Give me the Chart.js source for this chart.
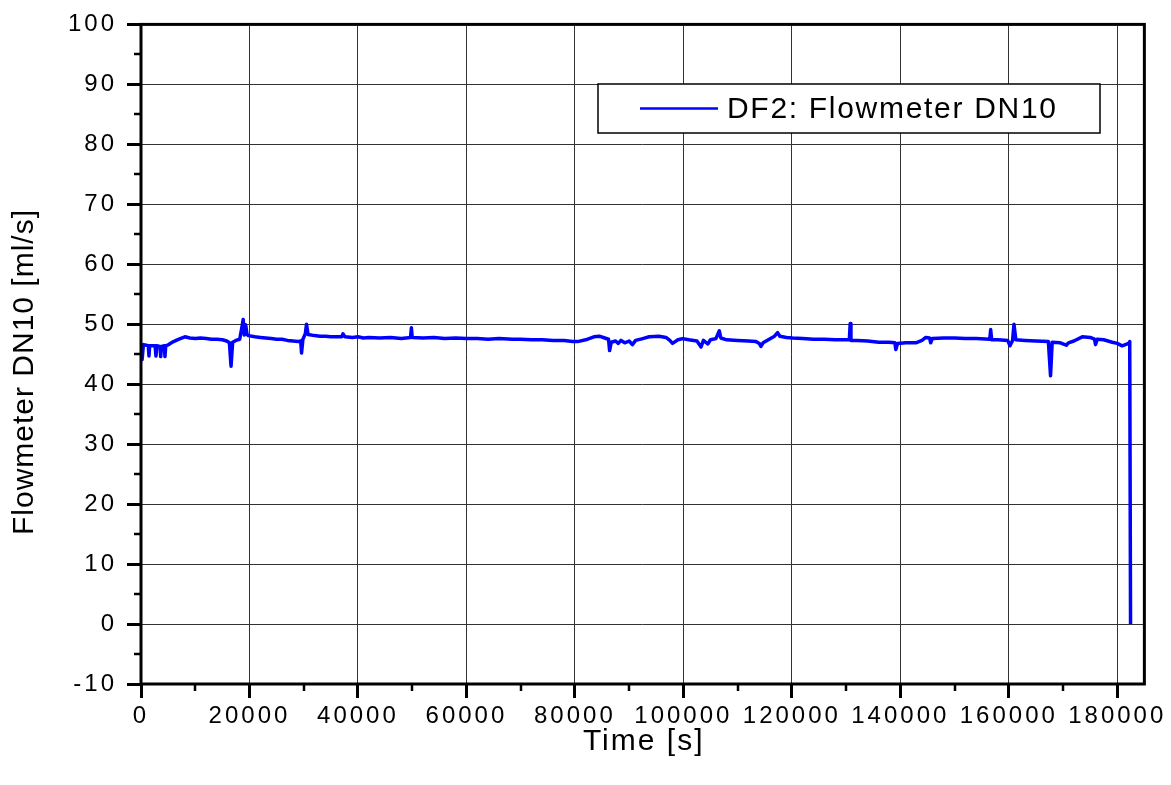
<!DOCTYPE html>
<html>
<head>
<meta charset="utf-8">
<script src="https://cdn.jsdelivr.net/npm/chart.js@4.4.1/dist/chart.umd.min.js"></script>
<style>
    html, body { margin: 0; padding: 0; background: #fff; }
    canvas { display: block; }
</style>
</head>
<body>
<canvas id="flow" width="1171" height="785"></canvas>
<script>
// Tiempo de ensayo [s] y caudal medido [ml/s]
const timeSec = [
    0, 200, 450, 1000, 1350, 1470, 1600, 2600, 2760, 2900,
    3500, 3630, 3780, 4300, 4420, 4560, 5100, 6000, 7000, 8100,
    9000, 10000, 11000, 12000, 13000, 14000, 15000, 15800, 16300, 16600,
    16900, 17500, 18200, 18600, 18840, 19050, 19300, 19550, 19800, 21000,
    22000, 23000, 24000, 25000, 26000, 27000, 28000, 29000, 29450, 29600,
    29850, 30300, 30520, 30800, 32000, 33000, 34000, 35000, 36000, 37000,
    37250, 37600, 39000, 40000, 41000, 42000, 44000, 46000, 48000, 49700,
    49850, 50000, 52000, 54000, 56000, 58000, 60000, 62000, 64000, 66000,
    68500, 70000, 72000, 74000, 76000, 78000, 79600, 80500, 82000, 83500,
    84500, 85500, 86200, 86400, 86700, 87500, 88000, 88500, 89200, 90000,
    90600, 91200, 92500, 93700, 95500, 96800, 97500, 98000, 99000, 99870,
    101000, 102500, 103260, 103700, 104500, 105000, 106000, 106630, 106900, 108000,
    110000, 112000, 113400, 114000, 114300, 114700, 115830, 116800, 117370, 117800,
    119000, 120130, 122000, 124000, 126000, 128000, 130260, 130600, 130760, 130900,
    132000, 134000, 136000, 137940, 139000, 139170, 139500, 141000, 142860, 144000,
    144700, 145400, 145600, 145900, 148000, 150000, 152000, 154000, 156500, 156660,
    156850, 158000, 159800, 160220, 160700, 160960, 161300, 163000, 165000, 167300,
    167700, 168000, 169500, 170600, 171000, 172000, 173550, 175000, 175800, 176000,
    176300, 177500, 179070, 180000, 180900, 181500, 182100, 182300, 182450
];

const flowRate = [
    46.8, 44.1, 46.6, 46.5, 46.4, 44.7, 46.4, 46.4, 44.7, 46.4,
    46.3, 44.6, 46.3, 46.4, 44.6, 46.4, 46.6, 47.1, 47.5, 47.9,
    47.7, 47.6, 47.7, 47.6, 47.5, 47.5, 47.4, 47.2, 46.9, 43.0,
    47.0, 47.3, 47.5, 49.5, 50.8, 48.2, 49.9, 48.3, 48.1, 47.9,
    47.8, 47.7, 47.6, 47.5, 47.5, 47.3, 47.2, 47.1, 47.2, 45.2,
    47.5, 48.4, 50.0, 48.3, 48.1, 48.0, 48.0, 47.9, 47.9, 47.9,
    48.4, 47.9, 47.8, 47.9, 47.7, 47.8, 47.7, 47.8, 47.6, 47.8,
    49.4, 47.8, 47.7, 47.8, 47.6, 47.7, 47.6, 47.6, 47.5, 47.6,
    47.5, 47.5, 47.4, 47.4, 47.3, 47.3, 47.1, 47.1, 47.4, 47.9,
    48.0, 47.7, 47.5, 45.6, 47.0, 47.2, 46.8, 47.3, 46.9, 47.2,
    46.6, 47.3, 47.6, 47.9, 48.0, 47.8, 47.3, 46.8, 47.4, 47.6,
    47.4, 47.2, 46.2, 47.3, 46.7, 47.4, 47.6, 48.9, 47.7, 47.4,
    47.3, 47.2, 47.1, 46.8, 46.3, 46.9, 47.5, 48.0, 48.6, 48.0,
    47.8, 47.7, 47.6, 47.5, 47.5, 47.4, 47.4, 47.4, 50.1, 47.3,
    47.3, 47.2, 47.0, 47.0, 46.9, 45.8, 46.8, 46.9, 46.9, 47.3,
    47.8, 47.7, 46.9, 47.6, 47.7, 47.7, 47.6, 47.6, 47.5, 49.1,
    47.4, 47.4, 47.3, 46.4, 47.3, 50.0, 47.4, 47.3, 47.2, 47.1,
    41.4, 47.0, 46.9, 46.5, 46.9, 47.2, 47.9, 47.8, 47.5, 46.6,
    47.5, 47.4, 47.0, 46.8, 46.4, 46.6, 46.8, 47.1, 0.0
];

// Marcas principales de los ejes
const xTicks = [0, 20000, 40000, 60000, 80000, 100000, 120000, 140000, 160000, 180000];
const yTicks = [-10, 0, 10, 20, 30, 40, 50, 60, 70, 80, 90, 100];

const seriesLabel = 'DF2: Flowmeter DN10';
const xTitle = 'Time [s]';
const yTitle = 'Flowmeter DN10 [ml/s]';

const xRange = [0, 185000];
const yRange = [-10, 100];

const FONT = '"Liberation Sans", Arial, sans-serif';
const BLUE = '#0000ff';
const GRID = '#333';

// El espaciado de letras se pierde al redimensionar el canvas, se fija antes de medir y dibujar
const spacing = {
    id: 'spacing',
    beforeLayout: (chart) => { chart.ctx.letterSpacing = '3px'; },
    beforeDraw: (chart) => { chart.ctx.letterSpacing = '3px'; }
};

// Marco completo y ticks menores hacia fuera
const frame = {
    id: 'frame',
    afterDraw: (chart) => {
        const { ctx, chartArea: a, scales: { x, y } } = chart;
        ctx.save();
        ctx.strokeStyle = '#000';
        ctx.lineWidth = 2.5;
        ctx.beginPath();
        for (let v = yRange[0] + 5; v < yRange[1]; v += 10) {
            const py = Math.round(y.getPixelForValue(v));
            ctx.moveTo(a.left - 7, py);
            ctx.lineTo(a.left, py);
        }
        for (let v = 10000; v < xRange[1]; v += 20000) {
            const px = Math.round(x.getPixelForValue(v));
            ctx.moveTo(px, a.bottom);
            ctx.lineTo(px, a.bottom + 7);
        }
        ctx.stroke();
        ctx.lineWidth = 3;
        ctx.strokeRect(a.left, a.top, a.right - a.left, a.bottom - a.top);
        ctx.restore();
    }
};

// Títulos de los ejes
const axisTitles = {
    id: 'axisTitles',
    afterDraw: (chart) => {
        const { ctx, chartArea: a } = chart;
        ctx.save();
        ctx.fillStyle = '#000';
        ctx.font = '30px ' + FONT;
        ctx.textAlign = 'center';
        ctx.textBaseline = 'middle';
        ctx.letterSpacing = '2px';
        ctx.fillText(xTitle, (a.left + a.right) / 2 + 1, 742);
        ctx.letterSpacing = '1px';
        ctx.translate(25, 372);
        ctx.rotate(-Math.PI / 2);
        ctx.fillText(yTitle, 0, 0);
        ctx.restore();
    }
};

// Leyenda en recuadro dentro del área del gráfico
const boxLegend = {
    id: 'boxLegend',
    afterDraw: (chart) => {
        const ctx = chart.ctx;
        const ds = chart.data.datasets[0];
        const left = 598, top = 84, w = 502, h = 49;
        const midY = top + h / 2;
        ctx.save();
        ctx.fillStyle = '#fff';
        ctx.fillRect(left, top, w, h);
        ctx.strokeStyle = '#000';
        ctx.lineWidth = 1.5;
        ctx.strokeRect(left, top, w, h);
        ctx.strokeStyle = ds.borderColor;
        ctx.lineWidth = 2.5;
        ctx.beginPath();
        ctx.moveTo(640, midY);
        ctx.lineTo(718, midY);
        ctx.stroke();
        ctx.letterSpacing = '1.7px';
        ctx.fillStyle = '#000';
        ctx.font = '30px ' + FONT;
        ctx.textBaseline = 'middle';
        ctx.fillText(ds.label, 727, midY + 1);
        ctx.restore();
    }
};

const ctx = document.getElementById('flow');

new Chart(ctx, {
    type: 'line',
    data: {
        datasets: [{
            label: seriesLabel,
            data: timeSec.map((t, i) => ({ x: t, y: flowRate[i] })),
            borderColor: BLUE,
            borderWidth: 3.5,
            borderJoinStyle: 'round',
            pointRadius: 0,
            tension: 0,
            fill: false
        }]
    },
    options: {
        responsive: false,
        animation: false,
        layout: { padding: { top: 19, right: 26, left: 0, bottom: 0 } },
        plugins: {
            legend: { display: false },
            tooltip: { enabled: false }
        },
        scales: {
            x: {
                type: 'linear',
                min: xRange[0],
                max: xRange[1],
                afterBuildTicks: (axis) => {
                    axis.ticks = xTicks.map(v => ({ value: v }));
                },
                afterFit: (axis) => { axis.height = 101; },
                ticks: {
                    autoSkip: false,
                    color: '#000',
                    padding: 4,
                    maxRotation: 0,
                    font: { family: FONT, size: 24 },
                    callback: (v) => String(v)
                },
                grid: {
                    color: GRID,
                    lineWidth: 1,
                    tickColor: '#000',
                    tickWidth: 3,
                    tickLength: 14
                },
                border: { display: false },
                title: { display: false }
            },
            y: {
                min: yRange[0],
                max: yRange[1],
                afterBuildTicks: (axis) => {
                    axis.ticks = yTicks.map(v => ({ value: v }));
                },
                afterFit: (axis) => { axis.width = 141; },
                ticks: {
                    color: '#000',
                    padding: 10,
                    font: { family: FONT, size: 24 }
                },
                grid: {
                    color: GRID,
                    lineWidth: 1,
                    tickColor: '#000',
                    tickWidth: 3,
                    tickLength: 14
                },
                border: { display: false },
                title: { display: false }
            }
        }
    },
    plugins: [spacing, frame, axisTitles, boxLegend]
});
</script>
</body>
</html>
